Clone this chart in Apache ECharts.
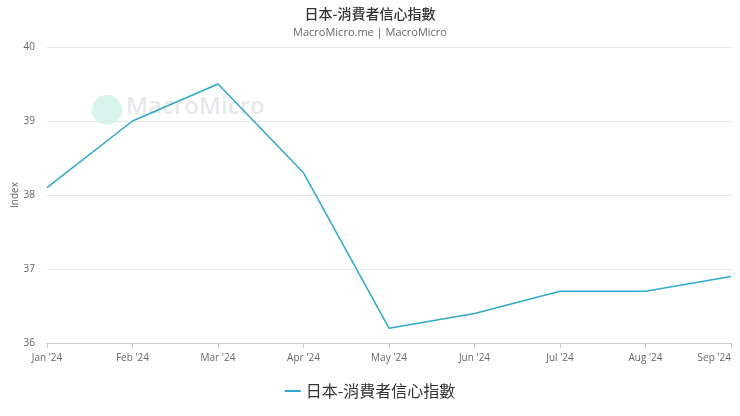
<!DOCTYPE html>
<html><head><meta charset="utf-8">
<script src="https://cdn.jsdelivr.net/npm/echarts@6/dist/echarts.min.js"></script>
<style>html,body{margin:0;padding:0;background:#fff}#c{width:740px;height:416px}</style>
</head><body><div id="c"></div>
<script>
const categories = ["Jan '24","Feb '24","Mar '24","Apr '24","May '24","Jun '24","Jul '24","Aug '24","Sep '24"];
const values = [38.1, 39.0, 39.5, 38.3, 36.2, 36.4, 36.7, 36.7, 36.9];
const seriesName = "日本-消費者信心指數";
const chart = echarts.init(document.getElementById('c'));
const font = "'Noto Sans CJK TC','Noto Sans',sans-serif";
const lblFont = "'Open Sans','Noto Sans',sans-serif";
chart.setOption({
  animation: false,
  title: {
    text: seriesName, subtext: "MacroMicro.me | MacroMicro", left: 'center', top: 2, itemGap: 6,
    textStyle: {fontSize: 14, fontWeight: 500, color: '#333', fontFamily: font},
    subtextStyle: {fontSize: 11, color: '#666', fontFamily: lblFont}
  },
  graphic: [
    {type: 'circle', shape: {cx: 107, cy: 110, r: 15}, style: {fill: '#d6f3ec'}, z: 0},
    {type: 'text', left: 126, top: 95, style: {text: 'MacroMicro', fontSize: 24, fontWeight: 600, fill: '#e6e9ec', fontFamily: lblFont}, z: 0}
  ],
  legend: {
    bottom: 12, left: 'center', itemWidth: 16, itemHeight: 10,
    data: [{name: seriesName, icon: 'path://M0,5L16,5L16,7L0,7Z'}],
    textStyle: {fontSize: 16, color: '#333', fontFamily: font}
  },
  grid: {left: 47, right: 9, top: 47, bottom: 73, outerBoundsMode: 'none', containLabel: false},
  xAxis: {
    type: 'category', data: categories, boundaryGap: false,
    axisLine: {lineStyle: {color: '#ccc'}},
    axisTick: {show: true, alignWithLabel: true, lineStyle: {color: '#ccc'}},
    axisLabel: {fontSize: 10, color: '#666', margin: 10, fontFamily: lblFont, alignMaxLabel: 'right'}
  },
  yAxis: {
    type: 'value', min: 36, max: 40, interval: 1, name: 'Index', nameLocation: 'middle', nameGap: 27,
    nameMoveOverlap: false,
    nameTextStyle: {fontSize: 10, color: '#666', fontFamily: lblFont},
    axisLabel: {fontSize: 10, color: '#666', margin: 12, fontFamily: lblFont},
    splitLine: {lineStyle: {color: '#e6e6e6'}},
    axisLine: {show: false}, axisTick: {show: false}
  },
  series: [{
    name: seriesName, type: 'line', data: values, symbol: 'none',
    lineStyle: {color: '#2ea9c9', width: 1.5}, itemStyle: {color: '#2ea9c9'}
  }]
});
</script></body></html>
